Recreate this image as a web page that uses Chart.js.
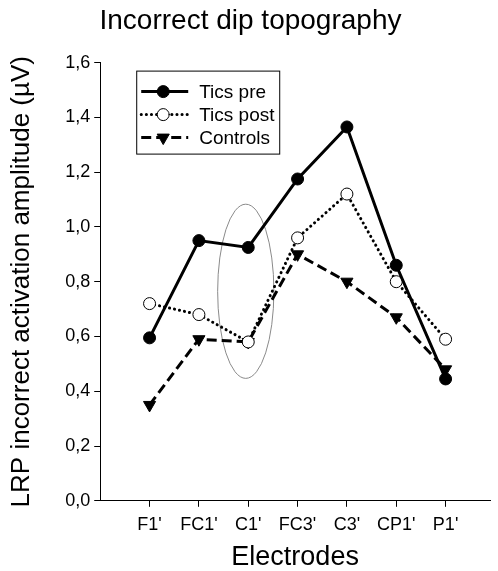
<!DOCTYPE html>
<html>
<head>
<meta charset="utf-8">
<script src="https://cdn.jsdelivr.net/npm/chart.js@4.4.0/dist/chart.umd.min.js"></script>
<style>
  html, body { margin: 0; padding: 0; background: #fff; }
  #wrap { width: 498px; height: 571px; }
</style>
</head>
<body>
<div id="wrap"><canvas id="c"></canvas></div>
<script>
const electrodes = ["F1'", "FC1'", "C1'", "FC3'", "C3'", "CP1'", "P1'"];
const ticsPre = [0.595, 0.95, 0.925, 1.175, 1.365, 0.86, 0.445];
const ticsPost = [0.72, 0.68, 0.58, 0.96, 1.12, 0.80, 0.59];
const controls = [0.35, 0.59, 0.58, 0.90, 0.80, 0.67, 0.48];
const yTicks = [0, 0.2, 0.4, 0.6, 0.8, 1.0, 1.2, 1.4, 1.6];

// highlight ellipse round C1', in data units
const ellipseCenter = { x: 1.95, y: 0.765 };
const ellipseRadius = { x: 0.57, y: 0.318 };

const font = 'Arial, "Liberation Sans", sans-serif';

function points(values) {
    return values.map((v, i) => ({ x: i, y: v }));
}

const ellipsePlugin = {
    id: 'ellipse',
    beforeDatasetsDraw(chart) {
        const ctx = chart.ctx;
        const xs = chart.scales.x, ys = chart.scales.y;
        const cx = xs.getPixelForValue(ellipseCenter.x);
        const cy = ys.getPixelForValue(ellipseCenter.y);
        const rx = Math.abs(xs.getPixelForValue(ellipseCenter.x + ellipseRadius.x) - cx);
        const ry = Math.abs(ys.getPixelForValue(ellipseCenter.y + ellipseRadius.y) - cy);
        ctx.save();
        ctx.beginPath();
        ctx.ellipse(cx, cy, rx, ry, 0, 0, Math.PI * 2);
        ctx.strokeStyle = '#8a8a8a';
        ctx.lineWidth = 1;
        ctx.stroke();
        ctx.restore();
    }
};

// boxed legend inside the plot, top left
const boxLegend = {
    id: 'boxLegend',
    afterDraw(chart) {
        const ctx = chart.ctx;
        const area = chart.chartArea;
        const left = area.left + 36, top = area.top + 8;
        const w = 143, h = 83;
        ctx.save();
        ctx.strokeStyle = '#000';
        ctx.lineWidth = 1;
        ctx.strokeRect(left + 0.5, top + 0.5, w, h);
        chart.data.datasets.forEach((ds, i) => {
            const y = top + 21 + i * 23;
            ctx.beginPath();
            ctx.setLineDash(ds.borderDash || []);
            ctx.lineCap = ds.borderCapStyle || 'butt';
            ctx.lineWidth = ds.borderWidth;
            ctx.strokeStyle = '#000';
            ctx.moveTo(left + 5, y);
            ctx.lineTo(left + 52, y);
            ctx.stroke();
            ctx.setLineDash([]);
            ctx.fillStyle = ds.pointBackgroundColor;
            ctx.strokeStyle = '#000';
            ctx.lineWidth = ds.pointBorderWidth;
            Chart.helpers.drawPoint(ctx, {
                pointStyle: ds.pointStyle,
                rotation: ds.pointRotation || 0,
                radius: ds.pointRadius,
                borderWidth: ds.pointBorderWidth
            }, left + 27, y);
            ctx.fillStyle = '#000';
            ctx.font = '19px ' + font;
            ctx.textBaseline = 'middle';
            ctx.fillText(ds.label, left + 63, y + 1);
        });
        ctx.restore();
    }
};

const ctx = document.getElementById('c').getContext('2d');
new Chart(ctx, {
    type: 'line',
    data: {
        datasets: [
            {
                label: 'Tics pre',
                data: points(ticsPre),
                borderColor: '#000',
                borderWidth: 3,
                pointStyle: 'circle',
                pointRadius: 6,
                pointBackgroundColor: '#000',
                pointBorderColor: '#000',
                pointBorderWidth: 1
            },
            {
                label: 'Tics post',
                data: points(ticsPost),
                borderColor: '#000',
                borderWidth: 3,
                borderDash: [0.1, 5],
                borderCapStyle: 'round',
                pointStyle: 'circle',
                pointRadius: 6,
                pointBackgroundColor: '#fff',
                pointBorderColor: '#000',
                pointBorderWidth: 1
            },
            {
                label: 'Controls',
                data: points(controls),
                borderColor: '#000',
                borderWidth: 3,
                borderDash: [10, 5],
                pointStyle: 'triangle',
                pointRotation: 180,
                pointRadius: 7,
                pointBackgroundColor: '#000',
                pointBorderColor: '#000',
                pointBorderWidth: 1
            }
        ]
    },
    options: {
        responsive: true,
        maintainAspectRatio: false,
        animation: false,
        layout: { padding: { top: 4, left: 6, right: 3, bottom: 0 } },
        plugins: {
            legend: { display: false },
            tooltip: { enabled: false },
            title: {
                display: true,
                text: 'Incorrect dip topography',
                color: '#000',
                font: { family: font, size: 28, weight: 'normal' },
                padding: { top: 0, bottom: 25 }
            }
        },
        scales: {
            x: {
                type: 'linear',
                min: -1,
                max: 6.9,
                afterBuildTicks(scale) {
                    scale.ticks = electrodes.map((_, i) => ({ value: i }));
                },
                grid: { drawOnChartArea: false, color: '#000', tickLength: 6 },
                border: { display: true, color: '#000', width: 1 },
                ticks: {
                    color: '#000',
                    font: { family: font, size: 18, lineHeight: 0.4 },
                    padding: 15,
                    maxRotation: 0,
                    callback: (v) => electrodes[v]
                },
                title: {
                    display: true,
                    text: 'Electrodes',
                    color: '#000',
                    font: { family: font, size: 27, lineHeight: 1 },
                    padding: { top: 0, bottom: 0 }
                }
            },
            y: {
                min: 0,
                max: 1.6,
                afterBuildTicks(scale) {
                    scale.ticks = yTicks.map(v => ({ value: v }));
                },
                grid: { drawOnChartArea: false, color: '#000', tickLength: 6 },
                border: { display: true, color: '#000', width: 1 },
                ticks: {
                    color: '#000',
                    font: { family: font, size: 18 },
                    padding: 4,
                    callback: (v) => v.toFixed(1).replace('.', ',')
                },
                title: {
                    display: true,
                    text: 'LRP incorrect activation amplitude (µV)',
                    color: '#000',
                    font: { family: font, size: 26 },
                    padding: { top: 0, bottom: 24 }
                }
            }
        }
    },
    plugins: [ellipsePlugin, boxLegend]
});
</script>
</body>
</html>
